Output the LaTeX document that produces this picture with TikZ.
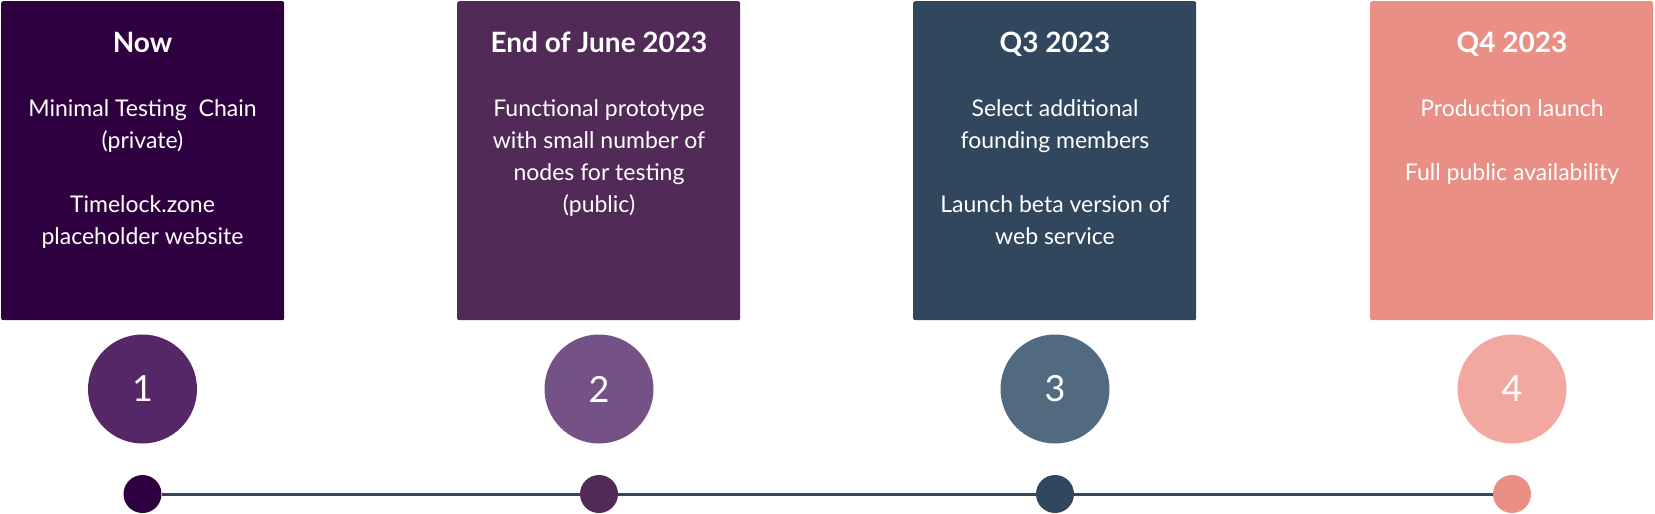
\documentclass[tikz,border=0pt]{standalone}
\usepackage{fontspec}
\setmainfont{Lato}
\definecolor{cA}{HTML}{2F003F}
\definecolor{cAl}{HTML}{552767}
\definecolor{cB}{HTML}{512A58}
\definecolor{cBl}{HTML}{755285}
\definecolor{cC}{HTML}{30475E}
\definecolor{cCl}{HTML}{516A80}
\definecolor{cD}{HTML}{E98F86}
\definecolor{cDl}{HTML}{F2A8A0}
\definecolor{tline}{HTML}{34475E}
\begin{document}
\begin{tikzpicture}[x=1pt,y=-1pt,
  card/.style={rectangle, rounded corners=2pt, draw=none, minimum width=283pt, minimum height=319pt, anchor=north west, inner sep=0pt},
  heading/.style={text=white, font=\fontsize{28}{32}\selectfont\bfseries, anchor=base, inner sep=0pt},
  bodyline/.style={text=white, font=\fontsize{23}{32}\selectfont, anchor=base, inner sep=0pt},
  numcircle/.style={circle, minimum size=109pt, inner sep=0pt, text=white, font=\fontsize{36}{40}\selectfont},
  dot/.style={circle, minimum size=38pt, inner sep=0pt},
  tl/.style={draw=tline, line width=3pt}]
\useasboundingbox (0,0) rectangle (1655,514);
% cards
\node[card, fill=cA] (b1) at (1,1) {};
\node[card, fill=cB] (b2) at (457,1) {};
\node[card, fill=cC] (b3) at (913,1) {};
\node[card, fill=cD] (b4) at (1370,1) {};
% headings
\node[heading] (h1) at (142.5,52) {Now};
\node[heading] (h2) at (599,52) {End of June 2023};
\node[heading] (h3) at (1055,52) {Q3 2023};
\node[heading] (h4) at (1512,52) {Q4 2023};
% body 1
\node[bodyline] (l1a) at (142.5,116) {Minimal Testing\ \ Chain};
\node[bodyline] (l1b) at (142.5,148) {(private)};
\node[bodyline] (l1c) at (142.5,212) {Timelock.zone};
\node[bodyline] (l1d) at (142.5,244) {placeholder website};
% body 2
\node[bodyline] (l2a) at (599,116) {Functional prototype};
\node[bodyline] (l2b) at (599,148) {with small number of};
\node[bodyline] (l2c) at (599,180) {nodes for testing};
\node[bodyline] (l2d) at (599,212) {(public)};
% body 3
\node[bodyline] (l3a) at (1055,116) {Select additional};
\node[bodyline] (l3b) at (1055,148) {founding members};
\node[bodyline] (l3c) at (1055,212) {Launch beta version of};
\node[bodyline] (l3d) at (1055,244) {web service};
% body 4
\node[bodyline] (l4a) at (1512,116) {Production launch};
\node[bodyline] (l4b) at (1512,180) {Full public availability};
% number circles
\node[numcircle, fill=cAl] (n1) at (142.5,389) {1};
\node[numcircle, fill=cBl] (n2) at (599,389) {2};
\node[numcircle, fill=cCl] (n3) at (1055,389) {3};
\node[numcircle, fill=cDl] (n4) at (1512,389) {4};
% timeline dots
\node[dot, fill=cA] (d1) at (142.5,494) {};
\node[dot, fill=cB] (d2) at (599,494) {};
\node[dot, fill=cC] (d3) at (1055,494) {};
\node[dot, fill=cD] (d4) at (1512,494) {};
% timeline
\draw[tl] (d1) -- (d2);
\draw[tl] (d2) -- (d3);
\draw[tl] (d3) -- (d4);
\end{tikzpicture}
\end{document}
